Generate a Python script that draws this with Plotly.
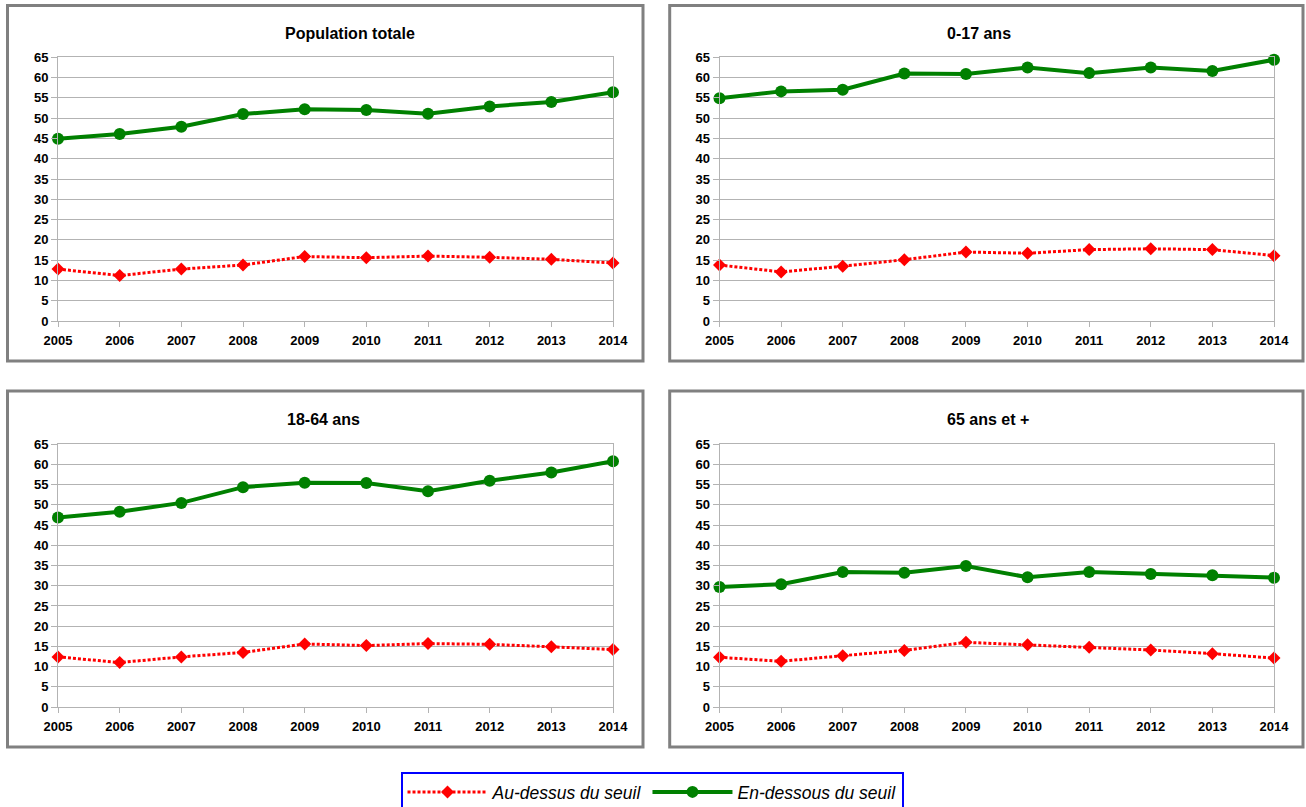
import plotly.graph_objects as go

# Poverty-threshold shares by age group, 2005-2014 (%)
years = [2005, 2006, 2007, 2008, 2009, 2010, 2011, 2012, 2013, 2014]
panel_titles = ["Population totale", "0-17 ans", "18-64 ans", "65 ans et +"]
series_names = ["Au-dessus du seuil", "En-dessous du seuil"]

above_total = [12.8, 11.2, 12.8, 13.8, 15.9, 15.6, 16.0, 15.7, 15.2, 14.3]
below_total = [44.9, 46.1, 47.9, 51.0, 52.2, 52.0, 51.1, 52.9, 54.0, 56.4]

above_0_17 = [13.8, 12.1, 13.5, 15.1, 17.0, 16.7, 17.6, 17.8, 17.6, 16.1]
below_0_17 = [54.9, 56.6, 57.0, 61.0, 60.9, 62.5, 61.1, 62.5, 61.6, 64.4]

above_18_64 = [12.4, 11.0, 12.4, 13.5, 15.6, 15.2, 15.7, 15.5, 14.9, 14.2]
below_18_64 = [46.9, 48.3, 50.5, 54.4, 55.5, 55.4, 53.4, 56.0, 58.0, 60.8]

above_65 = [12.3, 11.3, 12.7, 14.0, 16.0, 15.4, 14.8, 14.1, 13.2, 12.1]
below_65 = [29.7, 30.4, 33.4, 33.2, 34.9, 32.1, 33.4, 32.9, 32.6, 32.0]

panels_above = [above_total, above_0_17, above_18_64, above_65]
panels_below = [below_total, below_0_17, below_18_64, below_65]

# ---- layout geometry (pixels of a 1306 x 807 page) ----
W, H = 1306, 807
FONT = "Liberation Sans, Arial, sans-serif"
RED = "#ff0000"
GREEN = "#008000"
GRID = "#b3b3b3"

# plot areas: (left, right, bottom, top) in px
plot_boxes = [
    (58, 613, 321, 57.3),
    (719.5, 1274, 321, 57.3),
    (58, 613, 707, 444.3),
    (719.5, 1274, 707, 444.3),
]
# outer panel frames: (left, right, top, bottom) in px
frames = [
    (7.5, 643, 5.5, 361),
    (669.7, 1303, 5.5, 361),
    (7.5, 643, 391, 747),
    (669.7, 1303, 391, 747),
]
# title centres in px
title_pos = [(350, 33), (978.5, 33), (323, 419.5), (987.5, 419.5)]


def px_x(v):
    return v / W


def px_y(v):
    return (H - v) / H


tick_font = dict(family=FONT, size=13, color="black", weight="bold")

fig = go.Figure()
layout = dict(
    width=W,
    height=H,
    margin=dict(l=0, r=0, t=0, b=0, autoexpand=False),
    paper_bgcolor="white",
    plot_bgcolor="white",
    font=dict(family=FONT, color="black"),
    shapes=[],
    annotations=[],
)

for i in range(4):
    sfx = "" if i == 0 else str(i + 1)
    xa, ya = "x" + sfx, "y" + sfx
    left, right, bottom, top = plot_boxes[i]

    fig.add_trace(go.Scatter(
        x=years, y=panels_above[i], xaxis=xa, yaxis=ya,
        name=series_names[0], legendgroup="above", showlegend=(i == 0),
        mode="lines+markers", cliponaxis=False,
        line=dict(color=RED, width=3, dash="3px,2px"),
        marker=dict(symbol="diamond", size=10, color=RED),
    ))
    fig.add_trace(go.Scatter(
        x=years, y=panels_below[i], xaxis=xa, yaxis=ya,
        name=series_names[1], legendgroup="below", showlegend=(i == 0),
        mode="lines+markers", cliponaxis=False,
        line=dict(color=GREEN, width=4),
        marker=dict(symbol="circle", size=12, color=GREEN),
    ))

    layout["xaxis" + sfx] = dict(
        domain=[px_x(left), px_x(right)], anchor=ya,
        range=[years[0], years[-1]], tickmode="array", tickvals=years,
        showgrid=False, zeroline=False, automargin=False,
        showline=True, linecolor=GRID, linewidth=1, mirror=True,
        ticks="outside", ticklen=5, tickcolor=GRID,
        ticklabelstandoff=2,
        tickfont=tick_font,
    )
    layout["yaxis" + sfx] = dict(
        domain=[px_y(bottom), px_y(top)], anchor=xa,
        range=[0, 65], dtick=5, tick0=0,
        showgrid=True, gridcolor=GRID, gridwidth=1, zeroline=False,
        automargin=False,
        showline=True, linecolor=GRID, linewidth=1, mirror=True,
        ticks="outside", ticklen=6, tickcolor=GRID,
        tickfont=tick_font,
    )

    fl, fr, ft, fb = frames[i]
    layout["shapes"].append(dict(
        type="rect", xref="paper", yref="paper",
        x0=px_x(fl), x1=px_x(fr), y0=px_y(fb), y1=px_y(ft),
        line=dict(color="#808080", width=3), fillcolor="rgba(0,0,0,0)",
        layer="above",
    ))

    tx, ty = title_pos[i]
    layout["annotations"].append(dict(
        text=panel_titles[i], xref="paper", yref="paper",
        x=px_x(tx), y=px_y(ty), xanchor="center", yanchor="middle",
        showarrow=False,
        font=dict(family=FONT, size=16, color="black", weight="bold"),
    ))

layout["legend"] = dict(
    orientation="h",
    x=px_x(400.5), y=px_y(772), xanchor="left", yanchor="top",
    bordercolor="#0000ff", borderwidth=2, bgcolor="white",
    font=dict(family=FONT, size=17.5, color="black", style="italic"),
    itemwidth=80,
    traceorder="normal",
)

fig.update_layout(**layout)
fig.write_html("out.html")
